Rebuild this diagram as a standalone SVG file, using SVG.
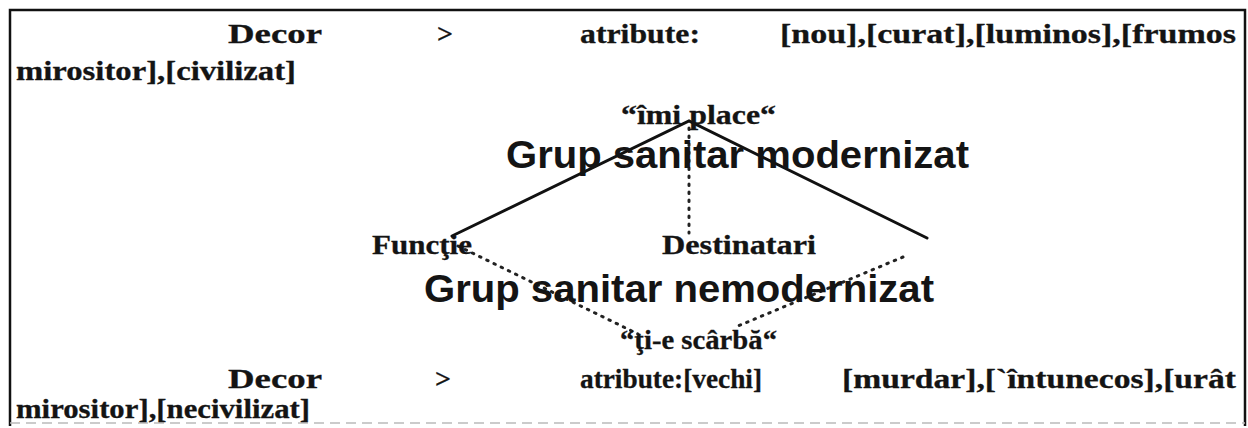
<svg xmlns="http://www.w3.org/2000/svg" width="1248" height="428" viewBox="0 0 1248 428">
<style>
.t{font-family:"Liberation Serif","Times New Roman",serif;font-weight:bold;font-size:28px;fill:#141414;stroke:#141414;stroke-width:0.3}
.s{font-family:"Liberation Serif","Times New Roman",serif;font-weight:bold;font-size:27px;fill:#141414;stroke:#141414;stroke-width:0.3}
.big{font-family:"Liberation Sans",Arial,sans-serif;font-weight:bold;font-size:38px;fill:#141414}
.solid{stroke:#111;stroke-width:3;fill:none;stroke-linecap:round}
.dot{stroke:#222;stroke-width:3;fill:none;stroke-dasharray:1.5 6.5;stroke-linecap:round}
</style>
<rect width="1248" height="428" fill="#fff"/>
<g id="frame">
<path d="M10 426 V10 H1245 V426" fill="none" stroke="#111" stroke-width="2.5"/>
<path d="M10 423 H1245" fill="none" stroke="#bbb" stroke-width="1.5" stroke-dasharray="10 6"/>
</g>
<g id="header">
<text class="t" x="228" y="43" textLength="94" lengthAdjust="spacingAndGlyphs">Decor</text>
<text class="t" x="437" y="43">&gt;</text>
<text class="t" x="580" y="43" textLength="120" lengthAdjust="spacingAndGlyphs">atribute:</text>
<text class="t" x="780" y="43" textLength="456" lengthAdjust="spacingAndGlyphs">[nou],[curat],[luminos],[frumos</text>
<text class="t" x="16" y="80" textLength="280" lengthAdjust="spacingAndGlyphs">mirositor],[civilizat]</text>
</g>
<g id="connectors">
<path class="solid" d="M452 236 L689 121 L927 238"/>
<path class="dot" d="M689 128 V233"/>
<path class="dot" d="M458 246 L638 334"/>
<path class="dot" d="M903 257 L738 326"/>
</g>
<g id="node-place"><text class="s" x="621" y="124" textLength="155" lengthAdjust="spacingAndGlyphs">“îmi place“</text></g>
<g id="node-modernizat"><text class="big" x="506" y="168" textLength="463" lengthAdjust="spacingAndGlyphs">Grup sanitar modernizat</text></g>
<g id="node-functie"><text class="t" x="372" y="254" textLength="100" lengthAdjust="spacingAndGlyphs">Funcţie</text></g>
<g id="node-destinatari"><text class="t" x="662" y="254" textLength="154" lengthAdjust="spacingAndGlyphs">Destinatari</text></g>
<g id="node-nemodernizat"><text class="big" x="424" y="302" textLength="510" lengthAdjust="spacingAndGlyphs">Grup sanitar nemodernizat</text></g>
<g id="node-scarba"><text class="s" x="620" y="349" textLength="157" lengthAdjust="spacingAndGlyphs">“ţi-e scârbă“</text></g>
<g id="footer">
<text class="t" x="228" y="388" textLength="94" lengthAdjust="spacingAndGlyphs">Decor</text>
<text class="t" x="435" y="388">&gt;</text>
<text class="t" x="580" y="388" textLength="182" lengthAdjust="spacingAndGlyphs">atribute:[vechi]</text>
<text class="t" x="842" y="388" textLength="394" lengthAdjust="spacingAndGlyphs">[murdar],[`întunecos],[urât</text>
<text class="t" x="16" y="418" textLength="294" lengthAdjust="spacingAndGlyphs">mirositor],[necivilizat]</text>
</g>
</svg>
